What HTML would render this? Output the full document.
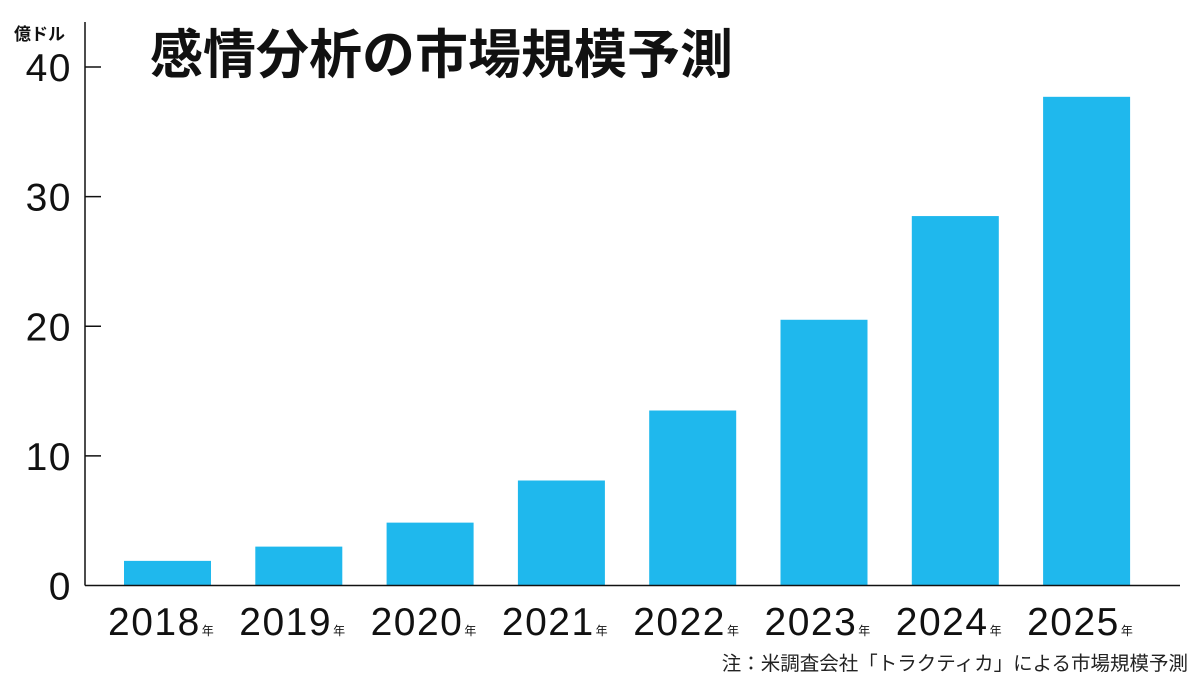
<!DOCTYPE html>
<html><head><meta charset="utf-8">
<style>
html,body{margin:0;padding:0;background:#fff;}
svg{display:block;font-family:"Liberation Sans","Noto Sans CJK JP",sans-serif;}
</style></head>
<body>
<svg id="chart" width="1200" height="683" viewBox="0 0 1200 683">
<text x="150" y="73" font-size="53" font-weight="bold" fill="#111" style="font-family:'Noto Sans CJK JP',sans-serif">感情分析の市場規模予測</text>
<text x="14" y="40" font-size="17" font-weight="bold" fill="#111" style="font-family:'Noto Sans CJK JP',sans-serif">億ドル</text>
<text x="1188" y="670" font-size="19.5" text-anchor="end" fill="#222" style="font-family:'Noto Sans CJK JP',sans-serif">注：米調査会社「トラクティカ」による市場規模予測</text>
<g id="bars"></g>
<g id="axes"></g>
</svg>
<script>
const categories = ["2018","2019","2020","2021","2022","2023","2024","2025"];
const values = [1.9, 3.0, 4.85, 8.1, 13.5, 20.5, 28.5, 37.7];
const yTicks = [0, 10, 20, 30, 40];

const NS = "http://www.w3.org/2000/svg";
const y0 = 585.5, y40 = 67;
function yScale(v){ return y0 - (y0 - y40) * v / 40; }
function xScale(i){ return 124 + i * 131.3; }
const barW = 87;

const bars = document.getElementById('bars');
const axes = document.getElementById('axes');

values.forEach((v, i) => {
  const r = document.createElementNS(NS, 'rect');
  r.setAttribute('x', xScale(i));
  r.setAttribute('y', yScale(v));
  r.setAttribute('width', barW);
  r.setAttribute('height', y0 - yScale(v));
  r.setAttribute('fill', '#1fb8ed');
  
  
  bars.appendChild(r);

  const t = document.createElementNS(NS, 'text');
  t.setAttribute('x', xScale(i) - 16);
  t.setAttribute('y', 635);
  t.setAttribute('font-size', '39');
  t.setAttribute('letter-spacing', '1.5');
  t.setAttribute('fill', '#111');
  
  
  t.textContent = categories[i];
  const s = document.createElementNS(NS, 'tspan');
  s.setAttribute('font-size', '12');
  s.setAttribute('dx', '1');
  s.setAttribute('letter-spacing', '0');
  s.textContent = '年';
  t.appendChild(s);
  axes.appendChild(t);
});

yTicks.forEach(v => {
  const y = yScale(v);
  if (v > 0) {
    const l = document.createElementNS(NS, 'line');
    l.setAttribute('x1', 85); l.setAttribute('x2', 101);
    l.setAttribute('y1', y); l.setAttribute('y2', y);
    l.setAttribute('stroke', '#111'); l.setAttribute('stroke-width', '1.5');
    
    
    axes.appendChild(l);
  }
  const t = document.createElementNS(NS, 'text');
  t.setAttribute('x', 72);
  t.setAttribute('y', y + 14);
  t.setAttribute('text-anchor', 'end');
  t.setAttribute('font-size', '39');
  t.setAttribute('letter-spacing', '1.5');
  t.setAttribute('fill', '#111');
  
  
  t.textContent = v;
  axes.appendChild(t);
});

const ya = document.createElementNS(NS, 'line');
ya.setAttribute('x1', 85); ya.setAttribute('x2', 85);
ya.setAttribute('y1', 22); ya.setAttribute('y2', y0);
ya.setAttribute('stroke', '#111'); ya.setAttribute('stroke-width', '1.5');


axes.appendChild(ya);

const xa = document.createElementNS(NS, 'line');
xa.setAttribute('x1', 85); xa.setAttribute('x2', 1180);
xa.setAttribute('y1', y0); xa.setAttribute('y2', y0);
xa.setAttribute('stroke', '#111'); xa.setAttribute('stroke-width', '1.5');


axes.appendChild(xa);
</script>
</body></html>
